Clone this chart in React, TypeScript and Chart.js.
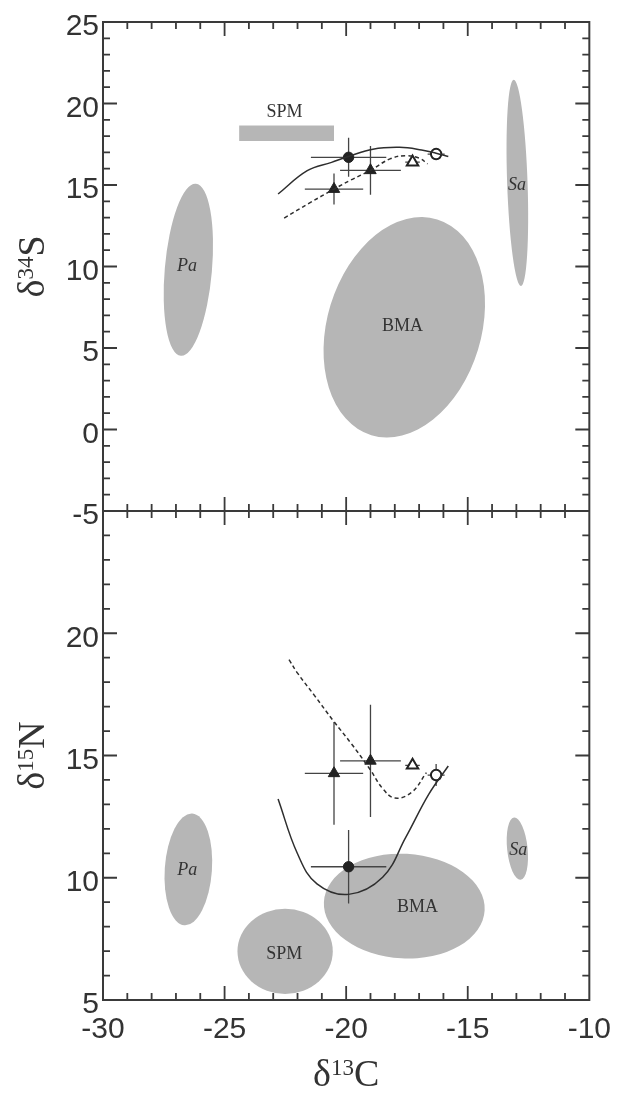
import React, { useEffect, useRef } from 'react';
import { Chart, registerables } from 'chart.js';

Chart.register(...registerables);

// ---------- axis tick labels ----------
const xTickLabels = [-30, -25, -20, -15, -10];
const sTickLabels = [-5, 0, 5, 10, 15, 20, 25];
const nTickLabels = [5, 10, 15, 20];

// ---------- axis titles (main, superscript, element) ----------
const titleC = ['δ', '13', 'C'];
const titleS = ['δ', '34', 'S'];
const titleN = ['δ', '15', 'N'];

// ---------- consumers (mean ± error) ----------
const consumerC = [-19.9, -20.5, -19.0, -17.27, -16.3];
const consumerCErr = [1.55, 1.2, 1.25, 0.3, 0.35];
const consumerS = [16.7, 14.75, 15.9, 16.4, 16.9];
const consumerSErr = [1.2, 0.95, 1.5, 0.15, 0.25];
const consumerN = [10.45, 14.27, 14.78, 14.6, 14.2];
const consumerNErr = [1.5, 2.1, 2.3, 0.15, 0.45];
const consumerMarker = ['circle', 'triangle', 'triangle', 'triangle', 'circle'];
const consumerFilled = [true, true, true, false, false];

// ---------- model curves ----------
const sSolidC = [-22.8, -21.6, -20.6, -19.9, -18.9, -17.8, -16.9, -16.3, -15.8];
const sSolidY = [14.45, 15.88, 16.39, 16.75, 17.2, 17.31, 17.15, 16.95, 16.75];
const sDashC = [-22.55, -21.5, -20.5, -19.8, -19.0, -18.2, -17.55, -17.0, -16.65];
const sDashY = [12.97, 13.9, 14.75, 15.31, 15.9, 16.6, 16.8, 16.65, 16.3];
const nSolidC = [-22.8, -22.0, -21.2, -19.9, -18.5, -17.55, -16.6, -15.8];
const nSolidY = [13.22, 10.98, 9.75, 9.32, 10.02, 11.65, 13.42, 14.57];
const nDashC = [-22.35, -22.0, -21.3, -20.52, -19.8, -19.03, -18.5, -18.0, -17.3, -16.7];
const nDashY = [18.92, 18.37, 17.45, 16.41, 15.5, 14.45, 13.65, 13.26, 13.5, 14.3];

// ---------- sources: top panel (δ34S) ----------
const srcTopC = [-26.49, -12.96, -17.61];
const srcTopS = [9.8, 15.13, 6.27];
const srcTopRc = [0.97, 0.42, 3.17];
const srcTopRs = [5.3, 6.33, 6.92];
const srcTopRot = [5, -2, 17];
const spmBarC = [-24.4, -20.5];
const spmBarS = [17.7, 18.65];
const lblTopNames = ['SPM', 'Pa', 'Sa', 'BMA'];
const lblTopC = [-22.54, -26.55, -12.97, -17.68];
const lblTopS = [19.45, 10.04, 14.96, 6.35];

// ---------- sources: bottom panel (δ15N) ----------
const srcBotC = [-26.49, -22.51, -17.61, -12.96];
const srcBotN = [10.34, 6.99, 8.84, 11.19];
const srcBotRc = [0.97, 1.96, 3.31, 0.42];
const srcBotRn = [2.29, 1.74, 2.14, 1.28];
const srcBotRot = [4, 0, 3, -6];
const lblBotNames = ['Pa', 'SPM', 'BMA', 'Sa'];
const lblBotC = [-26.54, -22.55, -17.07, -12.92];
const lblBotN = [10.29, 6.87, 8.78, 11.14];
const italicNames = ['Pa', 'Sa'];

const INK = '#333333';
const FILL = '#b6b6b6';
const TICK_FONT = { family: 'Liberation Sans, Arial, sans-serif', size: 30 };

function drawEllipse(ctx: any, xs: any, ys: any, c: number, v: number, rc: number, rv: number, rot: number) {
  const cx = xs.getPixelForValue(c);
  const cy = ys.getPixelForValue(v);
  const rx = Math.abs(xs.getPixelForValue(c + rc) - cx);
  const ry = Math.abs(ys.getPixelForValue(v + rv) - cy);
  ctx.beginPath();
  ctx.ellipse(cx, cy, rx, ry, (rot * Math.PI) / 180, 0, Math.PI * 2);
  ctx.fill();
}

function drawLabel(ctx: any, xs: any, ys: any, name: string, c: number, v: number) {
  const italic = italicNames.includes(name);
  ctx.font = `${italic ? 'italic ' : ''}18px "Liberation Serif", "Times New Roman", serif`;
  ctx.fillStyle = INK;
  ctx.textAlign = 'center';
  ctx.textBaseline = 'middle';
  ctx.fillText(name, xs.getPixelForValue(c), ys.getPixelForValue(v));
}

function drawErrorBars(ctx: any, xs: any, ys: any, yv: number[], yErr: number[]) {
  ctx.strokeStyle = '#444444';
  ctx.lineWidth = 1.3;
  consumerC.forEach((c, i) => {
    const px = xs.getPixelForValue(c);
    const py = ys.getPixelForValue(yv[i]);
    ctx.beginPath();
    ctx.moveTo(xs.getPixelForValue(c - consumerCErr[i]), py);
    ctx.lineTo(xs.getPixelForValue(c + consumerCErr[i]), py);
    ctx.moveTo(px, ys.getPixelForValue(yv[i] - yErr[i]));
    ctx.lineTo(px, ys.getPixelForValue(yv[i] + yErr[i]));
    ctx.stroke();
  });
}

function drawTitle(ctx: any, parts: string[], cx: number, baseline: number) {
  const main = '38px "Liberation Serif", "Times New Roman", serif';
  const sup = '23px "Liberation Serif", "Times New Roman", serif';
  ctx.font = main;
  const w0 = ctx.measureText(parts[0]).width;
  const w2 = ctx.measureText(parts[2]).width;
  ctx.font = sup;
  const w1 = ctx.measureText(parts[1]).width;
  const total = w0 + w1 + w2;
  let x = cx - total / 2;
  ctx.fillStyle = INK;
  ctx.textAlign = 'left';
  ctx.textBaseline = 'alphabetic';
  ctx.font = main;
  ctx.fillText(parts[0], x, baseline);
  x += w0;
  ctx.font = sup;
  ctx.fillText(parts[1], x, baseline - 11);
  x += w1;
  ctx.font = main;
  ctx.fillText(parts[2], x, baseline);
}

const decor = {
  id: 'decor',
  beforeDatasetsDraw(chart: any) {
    const ctx = chart.ctx;
    const xs = chart.scales.x;
    const yS = chart.scales.yS;
    const yN = chart.scales.yN;
    ctx.save();
    ctx.fillStyle = FILL;
    srcTopC.forEach((c, i) => drawEllipse(ctx, xs, yS, c, srcTopS[i], srcTopRc[i], srcTopRs[i], srcTopRot[i]));
    const bx0 = xs.getPixelForValue(spmBarC[0]);
    const bx1 = xs.getPixelForValue(spmBarC[1]);
    const by0 = yS.getPixelForValue(spmBarS[1]);
    const by1 = yS.getPixelForValue(spmBarS[0]);
    ctx.fillRect(bx0, by0, bx1 - bx0, by1 - by0);
    ctx.fillStyle = FILL;
    srcBotC.forEach((c, i) => drawEllipse(ctx, xs, yN, c, srcBotN[i], srcBotRc[i], srcBotRn[i], srcBotRot[i]));
    lblTopNames.forEach((n, i) => drawLabel(ctx, xs, yS, n, lblTopC[i], lblTopS[i]));
    lblBotNames.forEach((n, i) => drawLabel(ctx, xs, yN, n, lblBotC[i], lblBotN[i]));
    drawErrorBars(ctx, xs, yS, consumerS, consumerSErr);
    drawErrorBars(ctx, xs, yN, consumerN, consumerNErr);
    ctx.restore();
  },
  afterDraw(chart: any) {
    const ctx = chart.ctx;
    const xs = chart.scales.x;
    const yS = chart.scales.yS;
    const yN = chart.scales.yN;
    const a = chart.chartArea;
    const mid = yS.bottom;
    ctx.save();
    ctx.strokeStyle = '#3a3a3a';
    ctx.lineWidth = 2;
    ctx.strokeRect(a.left, a.top, a.right - a.left, a.bottom - a.top);
    ctx.beginPath();
    ctx.moveTo(a.left, mid);
    ctx.lineTo(a.right, mid);
    ctx.stroke();
    ctx.lineWidth = 1.8;
    ctx.beginPath();
    for (let v = xs.min + 1; v < xs.max; v++) {
      const L = v % 5 === 0 ? 14 : 7;
      const px = xs.getPixelForValue(v);
      ctx.moveTo(px, a.top);
      ctx.lineTo(px, a.top + L);
      ctx.moveTo(px, mid - L);
      ctx.lineTo(px, mid + L);
      ctx.moveTo(px, a.bottom);
      ctx.lineTo(px, a.bottom - L);
    }
    [yS, yN].forEach((ys) => {
      for (let v = ys.min + 1; v < ys.max; v++) {
        const L = v % 5 === 0 ? 14 : 7;
        const py = ys.getPixelForValue(v);
        ctx.moveTo(a.left, py);
        ctx.lineTo(a.left + L, py);
        ctx.moveTo(a.right, py);
        ctx.lineTo(a.right - L, py);
      }
    });
    ctx.stroke();
    drawTitle(ctx, titleC, (a.left + a.right) / 2, 1086);
    [
      [titleS, yS],
      [titleN, yN],
    ].forEach(([parts, ys]: any) => {
      ctx.save();
      ctx.translate(30, (ys.top + ys.bottom) / 2);
      ctx.rotate(-Math.PI / 2);
      drawTitle(ctx, parts, 0, 14);
      ctx.restore();
    });
    ctx.restore();
  },
};

const toPts = (xs: number[], ys: number[]) => xs.map((x, i) => ({ x, y: ys[i] }));

const yAxis = (min: number, max: number, labels: number[]) => ({
  type: 'linear',
  position: 'left',
  stack: 'panels',
  stackWeight: 1,
  min,
  max,
  afterBuildTicks: (s: any) => {
    s.ticks = labels.map((value) => ({ value }));
  },
  afterFit: (s: any) => {
    s.width = 103;
  },
  grid: { display: false, drawTicks: false },
  border: { display: false },
  ticks: {
    font: TICK_FONT,
    color: INK,
    padding: 4,
    labelOffset: 5,
    autoSkip: false,
    callback: (v: any) => String(v),
  },
});

export default function App() {
  const ref = useRef<HTMLCanvasElement | null>(null);
  useEffect(() => {
    if (!ref.current) return;
    const pointDs = (yv: number[], axis: string) => ({
      type: 'scatter',
      yAxisID: axis,
      data: toPts(consumerC, yv),
      pointStyle: consumerMarker,
      pointRadius: consumerMarker.map((m) => (m === 'circle' ? 5.2 : 6.6)),
      backgroundColor: consumerFilled.map((f) => (f ? '#222' : '#fff')),
      borderColor: '#222',
      borderWidth: consumerFilled.map((f) => (f ? 1 : 2)),
      showLine: false,
    });
    const lineDs = (xs: number[], yv: number[], axis: string, dashed: boolean) => ({
      type: 'line',
      yAxisID: axis,
      data: toPts(xs, yv),
      borderColor: '#2e2e2e',
      borderWidth: 1.5,
      borderDash: dashed ? [4, 3] : [],
      pointRadius: 0,
      fill: false,
      showLine: true,
      tension: 0.4,
    });
    const chart = new Chart(ref.current, {
      type: 'scatter',
      data: {
        datasets: [
          lineDs(sSolidC, sSolidY, 'yS', false),
          lineDs(sDashC, sDashY, 'yS', true),
          lineDs(nSolidC, nSolidY, 'yN', false),
          lineDs(nDashC, nDashY, 'yN', true),
          pointDs(consumerS, 'yS'),
          pointDs(consumerN, 'yN'),
        ] as any,
      },
      options: {
        animation: false,
        responsive: true,
        maintainAspectRatio: false,
        layout: { padding: { top: 22, right: 27, bottom: 0, left: 0 } },
        plugins: { legend: { display: false }, tooltip: { enabled: false } },
        scales: {
          x: {
            type: 'linear',
            position: 'bottom',
            min: -30,
            max: -10,
            afterBuildTicks: (s: any) => {
              s.ticks = xTickLabels.map((value) => ({ value }));
            },
            afterFit: (s: any) => {
              s.height = 98;
            },
            grid: { display: false, drawTicks: false },
            border: { display: false },
            ticks: {
              font: TICK_FONT,
              color: INK,
              padding: 12,
              maxRotation: 0,
              autoSkip: false,
              callback: (v: any) => String(v),
            },
          },
          yN: yAxis(5, 25, nTickLabels),
          yS: yAxis(-5, 25, sTickLabels),
        } as any,
      },
      plugins: [decor],
    });
    return () => chart.destroy();
  }, []);
  return (
    <div style={{ position: 'absolute', left: 0, top: 0, width: 623, height: 1098, background: '#fff' }}>
      <canvas ref={ref} />
    </div>
  );
}
